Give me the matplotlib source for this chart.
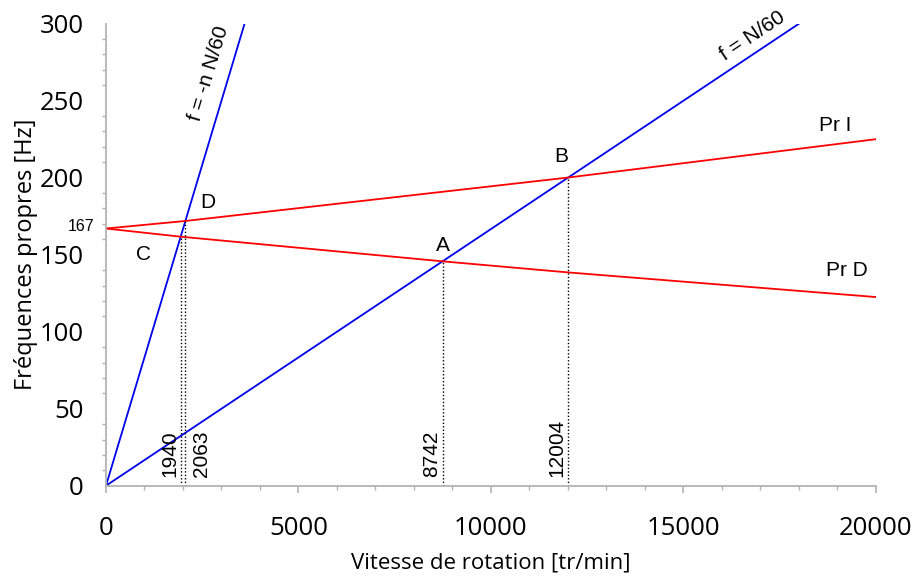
import matplotlib
matplotlib.use("Agg")
import matplotlib.pyplot as plt
from matplotlib.ticker import MultipleLocator

# Data
speed_n = [0, 3600]            # f = -n N/60 (n = 5)
freq_n = [0, 300]
speed_1 = [0, 18000]           # f = N/60
freq_1 = [0, 300]
prI_speed = [0, 2063, 12004, 20000]
prI_freq = [167, 171.9, 200.1, 225]
prD_speed = [0, 1940, 8742, 12004, 20000]
prD_freq = [167, 161.7, 145.7, 138.5, 122.5]
cross_speed = [1940, 2063, 8742, 12004]
cross_freq = [161.7, 171.9, 145.7, 200.1]
cross_side = ["left", "right", "left", "left"]

fig = plt.figure(figsize=(9.12, 5.79), dpi=100)
ax = fig.add_axes([0.1162, 0.1611, 0.8443, 0.7980])

ax.plot(speed_n, freq_n, color="#0000ee", lw=1.3)
ax.plot(speed_1, freq_1, color="#0000ee", lw=1.3)
ax.plot(prI_speed, prI_freq, color="#ff0000", lw=1.3)
ax.plot(prD_speed, prD_freq, color="#ff0000", lw=1.3)

afont = dict(family="Liberation Sans", fontsize=15, color="black")
for s, f, side in zip(cross_speed, cross_freq, cross_side):
    ax.plot([s, s], [0, f], color="black", lw=1.0, ls=(0, (1, 1.5)))
    if side == "left":
        ax.annotate(str(s), xy=(s, 0), xytext=(-1, 6), textcoords="offset points",
                    rotation=90, ha="right", va="bottom", **afont)
    else:
        ax.annotate(str(s), xy=(s, 0), xytext=(5, 6), textcoords="offset points",
                    rotation=90, ha="left", va="bottom", **afont)

# point letters
ax.text(980, 150, "C", ha="center", va="center", **afont)
ax.text(2650, 184, "D", ha="center", va="center", **afont)
ax.text(8750, 156, "A", ha="center", va="center", **afont)
ax.text(11820, 214, "B", ha="center", va="center", **afont)
ax.text(18950, 234, "Pr I", ha="center", va="center", **afont)
ax.text(19250, 140, "Pr D", ha="center", va="center", **afont)
ax.text(2680, 268, "f = -n N/60", rotation=73.3, rotation_mode="anchor",
        ha="center", va="center", **afont)
ax.text(16800, 292, "f = N/60", rotation=33.7, rotation_mode="anchor",
        ha="center", va="center", **afont)
ax.text(-300, 168, "167", ha="right", va="center", family="Liberation Sans",
        fontsize=11.5, clip_on=False)

ax.set_xlim(0, 20000)
ax.set_ylim(0, 300)
ax.xaxis.set_major_locator(MultipleLocator(5000))
ax.xaxis.set_minor_locator(MultipleLocator(1000))
ax.yaxis.set_major_locator(MultipleLocator(50))
ax.yaxis.set_minor_locator(MultipleLocator(10))
for sp in ["top", "right"]:
    ax.spines[sp].set_visible(False)
for sp in ["left", "bottom"]:
    ax.spines[sp].set_color("#b3b3b3")
    ax.spines[sp].set_linewidth(1.3)
ax.tick_params(axis="x", which="major", length=5, width=1.2, color="#b3b3b3",
               labelsize=18.5, pad=17)
ax.tick_params(axis="y", which="major", length=0, labelsize=18.5, pad=16)
ax.tick_params(which="minor", length=3, width=1.0, color="#b3b3b3")
for lab in ax.get_xticklabels() + ax.get_yticklabels():
    lab.set_family("Open Sans")

ax.set_xlabel("Vitesse de rotation [tr/min]", family="Open Sans", fontsize=16, labelpad=8)
ax.set_ylabel("Fréquences propres [Hz]", family="Open Sans", fontsize=17, labelpad=1)

fig.savefig("out.png", dpi=100)
